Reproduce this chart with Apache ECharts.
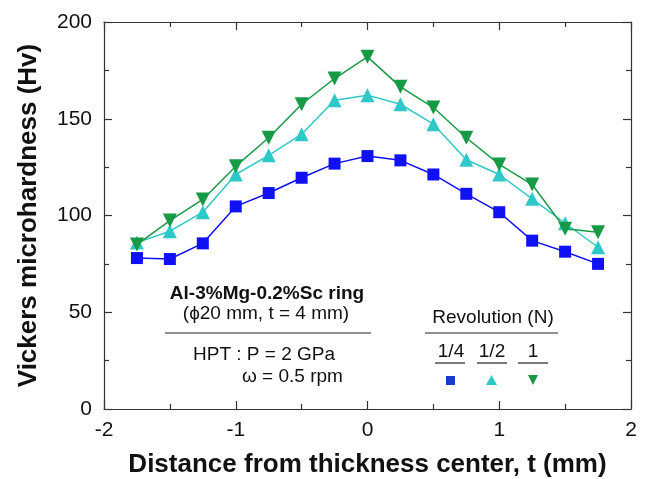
<!DOCTYPE html>
<html><head><meta charset="utf-8">
<script src="https://cdn.jsdelivr.net/npm/echarts@6/dist/echarts.min.js"></script>
<style>html,body{margin:0;padding:0;background:#fff}#c{width:647px;height:479px}</style>
</head><body><div id="c"></div>
<script>
const xPositions = [-1.75,-1.5,-1.25,-1,-0.75,-0.5,-0.25,0,0.25,0.5,0.75,1,1.25,1.5,1.75];
const hvQuarter = [78,77.5,85.6,104.7,111.6,119.5,126.8,130.7,128.5,121.2,111.2,101.7,87,81.3,75];
const hvHalf = [86,91.9,101.7,121.2,131.1,142,159.6,162.2,157.5,147.2,128.8,121.2,108.6,96,83.6];
const hvOne = [85,97.4,108.3,125.5,140.2,157.5,170.8,182,166.5,155.8,140.2,126.4,116,93.1,91.4];
const seriesNames = ['1/4','1/2','1'];
const xTitle = 'Distance from thickness center, t (mm)';
const yTitle = 'Vickers microhardness (Hv)';

const FONT = 'Arial, "Liberation Sans", sans-serif';
const colors = ['#1010f5','#2ec8c8','#179a45'];
const symbols = ['rect','triangle','path://M0,0 L10,0 L5,9 Z'];
const sizes = [12,14,14];
const datasets = [hvQuarter,hvHalf,hvOne];

const chart = echarts.init(document.getElementById('c'));
const axLine = {show:true,onZero:false,lineStyle:{color:'#333',width:1.2}};
const tick = {show:true,inside:true,length:8,lineStyle:{color:'#333',width:1.2}};
const minor = {show:true,splitNumber:2,length:5,lineStyle:{color:'#333',width:1.2}};
const option = {
  animation:false,
  grid:{left:104,right:16,top:22,bottom:70,containLabel:false,outerBoundsMode:'none'},
  xAxis:[{type:'value',min:-2,max:2,interval:1,position:'bottom',
    axisLine:axLine,axisTick:tick,minorTick:minor,splitLine:{show:false},
    axisLabel:{fontSize:21,color:'#111',margin:11,fontFamily:FONT},
    name:xTitle,nameLocation:'middle',nameGap:43,
    nameTextStyle:{fontSize:26,fontWeight:'bold',color:'#111',fontFamily:FONT}},
    {type:'value',min:-2,max:2,interval:1,position:'top',
    axisLine:axLine,axisTick:tick,minorTick:minor,splitLine:{show:false},axisLabel:{show:false}}],
  yAxis:[{type:'value',min:0,max:200,interval:50,position:'left',
    axisLine:axLine,axisTick:tick,minorTick:minor,splitLine:{show:false},
    axisLabel:{fontSize:21,color:'#111',margin:12,fontFamily:FONT},
    name:yTitle,nameLocation:'middle',nameGap:62,
    nameTextStyle:{fontSize:26,fontWeight:'bold',color:'#111',fontFamily:FONT}},
    {type:'value',min:0,max:200,interval:50,position:'right',
    axisLine:axLine,axisTick:tick,minorTick:minor,splitLine:{show:false},axisLabel:{show:false}}],
  series: datasets.map((d,i)=>({
    name:seriesNames[i],type:'line',
    data:d.map((v,j)=>[xPositions[j],v]),
    symbol:symbols[i],symbolSize:sizes[i],
    lineStyle:{color:colors[i],width:1.5},
    itemStyle:{color:colors[i]},
    z:2+i
  })),
  graphic:[
    {type:'text',style:{text:'Al-3%Mg-0.2%Sc ring',x:267,y:294,align:'center',verticalAlign:'middle',font:'bold 19px '+FONT,fill:'#111'}},
    {type:'text',style:{text:'(\u03d520 mm, t = 4 mm)',x:266,y:314,align:'center',verticalAlign:'middle',font:'19px '+FONT,fill:'#111'}},
    {type:'line',shape:{x1:165,y1:333,x2:371,y2:333},style:{stroke:'#222',lineWidth:1.2}},
    {type:'text',style:{text:'HPT : P = 2 GPa',x:193,y:355,align:'left',verticalAlign:'middle',font:'19px '+FONT,fill:'#111'}},
    {type:'text',style:{text:'\u03c9 = 0.5 rpm',x:242,y:377,align:'left',verticalAlign:'middle',font:'19px '+FONT,fill:'#111'}},
    {type:'text',style:{text:'Revolution (N)',x:493,y:318,align:'center',verticalAlign:'middle',font:'19px '+FONT,fill:'#111'}},
    {type:'line',shape:{x1:425,y1:333,x2:558,y2:333},style:{stroke:'#222',lineWidth:1.2}},
    {type:'text',style:{text:seriesNames[0],x:451,y:352,align:'center',verticalAlign:'middle',font:'19px '+FONT,fill:'#111'}},
    {type:'text',style:{text:seriesNames[1],x:492,y:352,align:'center',verticalAlign:'middle',font:'19px '+FONT,fill:'#111'}},
    {type:'text',style:{text:seriesNames[2],x:533,y:352,align:'center',verticalAlign:'middle',font:'19px '+FONT,fill:'#111'}},
    {type:'line',shape:{x1:435,y1:363,x2:465,y2:363},style:{stroke:'#222',lineWidth:1.2}},
    {type:'line',shape:{x1:477,y1:363,x2:507,y2:363},style:{stroke:'#222',lineWidth:1.2}},
    {type:'line',shape:{x1:518,y1:363,x2:548,y2:363},style:{stroke:'#222',lineWidth:1.2}},
    {type:'rect',shape:{x:446,y:376,width:9,height:9},style:{fill:'#1a3acc'}},
    {type:'polygon',shape:{points:[[491.5,375],[497,385],[486,385]]},style:{fill:'#2ec8c8'}},
    {type:'polygon',shape:{points:[[528,375],[538,375],[533,385]]},style:{fill:'#179a45'}}
  ]
};
chart.setOption(option);
</script></body></html>
